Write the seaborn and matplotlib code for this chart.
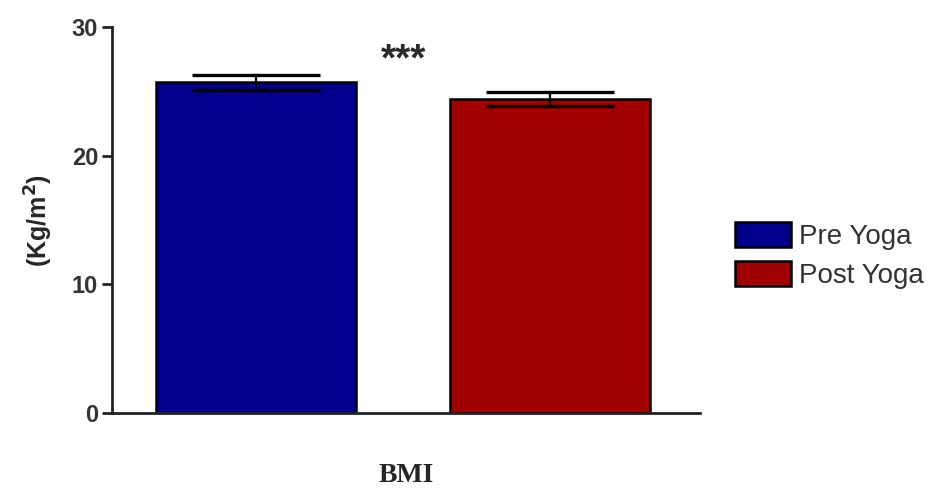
import numpy as np
import pandas as pd
import matplotlib
matplotlib.use('Agg')
import matplotlib.pyplot as plt
import seaborn as sns

# Values
groups = ['Pre Yoga', 'Post Yoga']
bmi_mean = [25.7, 24.4]
bmi_sem = [0.6, 0.55]
bar_colors = ['#00008A', '#A00000']

df = pd.DataFrame({'measure': ['BMI', 'BMI'], 'group': groups, 'bmi': bmi_mean})

sns.set_style('ticks')
plt.rcParams['font.family'] = ['Liberation Sans', 'DejaVu Sans']

fig = plt.figure(figsize=(9.5, 4.91), dpi=100)
ax = fig.add_axes([0.118, 0.159, 0.619, 0.786])

sns.barplot(data=df, x='group', y='bmi', hue='group', palette=bar_colors,
            saturation=1, width=0.68, edgecolor='black', linewidth=1.8,
            errorbar=None, legend=False, ax=ax)

# error bars (SEM)
xpos = np.arange(len(groups))
ax.errorbar(xpos, bmi_mean, yerr=bmi_sem, fmt='none', ecolor='black',
            elinewidth=1.6, capsize=46, capthick=2.4, zorder=5)

# significance marker
ax.text(0.5, 27.4, '***', ha='center', va='center', fontsize=28,
        fontweight='bold', color='#2a2a2a')

ax.set_xlim(-0.49, 1.51)
ax.set_ylim(0, 30)
ax.set_yticks([0, 10, 20, 30])
ax.set_xticks([])
ax.set_xlabel('BMI', fontsize=20, fontweight='bold',
              family=['Liberation Serif', 'DejaVu Serif'], labelpad=36)
ax.set_ylabel('(Kg/m$^\\mathbf{2}$)', fontsize=18, fontweight='bold', labelpad=12)
ax.tick_params(axis='y', labelsize=17, width=2, length=7, color='#222222', pad=3)
for lab in ax.get_yticklabels():
    lab.set_fontweight('bold')
    lab.set_color('#333333')

sns.despine(ax=ax)
ax.spines['left'].set_linewidth(2)
ax.spines['bottom'].set_linewidth(2)
ax.spines['left'].set_color('#222222')
ax.spines['bottom'].set_color('#222222')

handles = [plt.Rectangle((0, 0), 1, 1, facecolor=c, edgecolor='black', linewidth=1.8)
           for c in bar_colors]
fig.legend(handles, groups, loc='center left', bbox_to_anchor=(0.774, 0.48),
           frameon=False, fontsize=20, borderpad=0, borderaxespad=0,
           handlelength=2.0, handleheight=1.0, handletextpad=0.3,
           labelspacing=0.4, labelcolor='#333333')

fig.savefig('out.png', dpi=100)
